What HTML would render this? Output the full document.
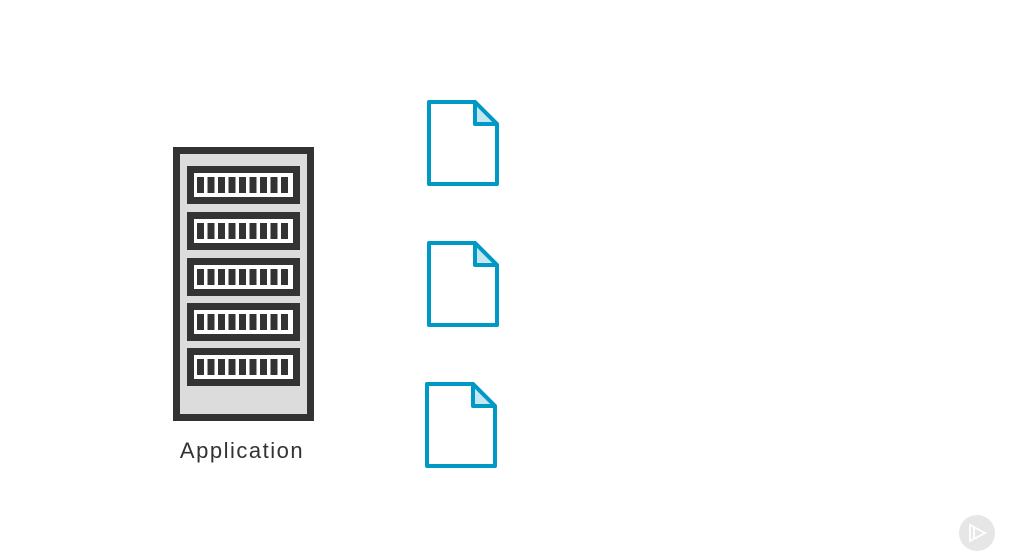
<!DOCTYPE html>
<html><head><style>
html,body{margin:0;padding:0;background:#fff;width:1009px;height:554px;overflow:hidden}
</style></head><body>
<svg width="1009" height="554" viewBox="0 0 1009 554" xmlns="http://www.w3.org/2000/svg">
<rect x="176.5" y="150.5" width="134" height="267" fill="#dcdcdc" stroke="#333" stroke-width="7"/>
<g id="u">
<rect x="187" y="166" width="113" height="38" fill="#333"/>
<rect x="194" y="173" width="99" height="24" fill="#fff"/>
<g fill="#333">
<rect x="197" y="177" width="7" height="16"/><rect x="207.5" y="177" width="7" height="16"/><rect x="218" y="177" width="7" height="16"/><rect x="228.5" y="177" width="7" height="16"/><rect x="239" y="177" width="7" height="16"/><rect x="249.5" y="177" width="7" height="16"/><rect x="260" y="177" width="7" height="16"/><rect x="270.5" y="177" width="7" height="16"/><rect x="281" y="177" width="7" height="16"/>
</g></g>
<use href="#u" y="46"/><use href="#u" y="92"/><use href="#u" y="137"/><use href="#u" y="182"/>
<text x="242" y="458" text-anchor="middle" font-family="Liberation Sans, sans-serif" font-size="22" letter-spacing="1.5" fill="#333">Application</text>
<g id="d" stroke="#0099c6" stroke-width="4" stroke-linejoin="round">
<path d="M429 102 H475 L497 124 V184 H429 Z" fill="#fff"/>
<path d="M475 102 V124 H497 Z" fill="#c6e6f1"/>
</g>
<use href="#d" y="141"/>
<use href="#d" x="-2" y="282"/>
<circle cx="977" cy="533" r="18" fill="#e6e6e6"/>
<path d="M970 525 V541 L985 533 Z M974 527 V539" fill="none" stroke="#fff" stroke-width="1.8"/>
</svg>
</body></html>
